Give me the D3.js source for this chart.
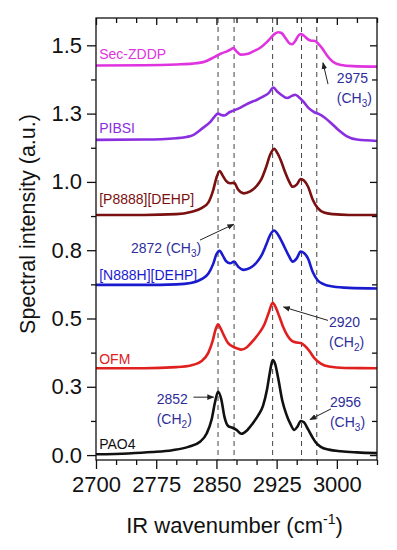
<!DOCTYPE html>
<html>
<head>
<meta charset="utf-8">
<script src="https://cdn.jsdelivr.net/npm/d3@7"></script>
<style>
  html, body { margin: 0; padding: 0; background: #fff; }
  svg { display: block; font-family: "Liberation Sans", Arial, sans-serif; }
</style>
</head>
<body>
<svg id="chart" width="397" height="550"></svg>
<script>
// ---------------- DATA ----------------
const xDomain = [2700, 3050];
const yDomain = [-0.018, 1.6];
const xMajorTicks = [2700, 2775, 2850, 2925, 3000];
const xMinorTicks = [2725, 2750, 2800, 2825, 2875, 2900, 2950, 2975, 3025, 3050];
const yMajorTicks = [0, 0.25, 0.5, 0.75, 1.0, 1.25, 1.5];
const yTickLabels = ["0.0", "0.3", "0.5", "0.8", "1.0", "1.3", "1.5"];
const yMinorTicks = [0.125, 0.375, 0.625, 0.875, 1.125, 1.375];
const peakLines = [2852, 2872, 2920, 2956, 2975];

const pao4Wn = [2700, 2740, 2770, 2795, 2815, 2830, 2838, 2844, 2848, 2852, 2856, 2860, 2865, 2870, 2875, 2881, 2888, 2895, 2902, 2908, 2913, 2917, 2920, 2923, 2927, 2932, 2937, 2942, 2947, 2951, 2955, 2959, 2964, 2969, 2974, 2980, 2990, 3005, 3025, 3050];
const pao4Y  = [0.003, 0.006, 0.011, 0.018, 0.03, 0.05, 0.08, 0.13, 0.19, 0.232, 0.205, 0.14, 0.105, 0.10, 0.092, 0.078, 0.09, 0.115, 0.145, 0.18, 0.24, 0.31, 0.348, 0.335, 0.28, 0.20, 0.15, 0.115, 0.092, 0.105, 0.125, 0.12, 0.095, 0.068, 0.045, 0.03, 0.02, 0.014, 0.01, 0.007];

const ofmWn = [2700, 2760, 2800, 2818, 2832, 2840, 2845, 2849, 2852, 2855, 2859, 2864, 2870, 2876, 2881, 2888, 2896, 2904, 2910, 2915, 2920, 2924, 2928, 2933, 2939, 2944, 2950, 2955, 2960, 2966, 2972, 2980, 2990, 3010, 3050];
const ofmY  = [0.318, 0.318, 0.322, 0.328, 0.345, 0.375, 0.415, 0.46, 0.479, 0.465, 0.44, 0.412, 0.398, 0.39, 0.386, 0.395, 0.42, 0.45, 0.48, 0.52, 0.557, 0.54, 0.51, 0.47, 0.435, 0.418, 0.412, 0.41, 0.40, 0.38, 0.355, 0.335, 0.324, 0.319, 0.318];

const ionWn = [2700, 2760, 2800, 2818, 2832, 2840, 2846, 2850, 2854, 2858, 2862, 2867, 2872, 2877, 2884, 2892, 2900, 2906, 2912, 2917, 2922, 2926, 2930, 2935, 2940, 2945, 2950, 2955, 2959, 2964, 2970, 2976, 2984, 2995, 3015, 3050];
const n888hY = [0.623, 0.623, 0.625, 0.63, 0.645, 0.665, 0.70, 0.735, 0.748, 0.73, 0.71, 0.702, 0.708, 0.69, 0.678, 0.685, 0.705, 0.73, 0.77, 0.806, 0.822, 0.81, 0.79, 0.76, 0.73, 0.708, 0.72, 0.745, 0.74, 0.72, 0.67, 0.64, 0.625, 0.617, 0.612, 0.61];
const p8888Y = [0.879, 0.879, 0.882, 0.89, 0.905, 0.925, 0.97, 1.015, 1.04, 1.022, 1.004, 0.995, 0.997, 0.972, 0.958, 0.965, 0.985, 1.01, 1.055, 1.10, 1.121, 1.105, 1.08, 1.04, 1.005, 0.982, 0.99, 1.01, 1.005, 0.983, 0.935, 0.905, 0.888, 0.882, 0.879, 0.879];

const pibsiWn = [2700, 2760, 2800, 2818, 2832, 2843, 2848, 2852, 2856, 2860, 2866, 2872, 2880, 2890, 2900, 2908, 2915, 2921, 2926, 2931, 2938, 2944, 2948, 2952, 2958, 2965, 2972, 2978, 2985, 2993, 3002, 3012, 3025, 3050];
const pibsiY  = [1.154, 1.155, 1.16, 1.168, 1.195, 1.222, 1.24, 1.25, 1.245, 1.243, 1.255, 1.262, 1.272, 1.288, 1.30, 1.312, 1.325, 1.345, 1.33, 1.318, 1.307, 1.315, 1.319, 1.312, 1.295, 1.27, 1.255, 1.248, 1.235, 1.215, 1.19, 1.168, 1.155, 1.15];

const zddpWn = [2700, 2760, 2800, 2820, 2836, 2848, 2856, 2863, 2868, 2871, 2875, 2880, 2888, 2896, 2905, 2912, 2918, 2923, 2927, 2931, 2936, 2940, 2944, 2948, 2952, 2955, 2959, 2964, 2968, 2973, 2977, 2982, 2988, 2995, 3005, 3020, 3050];
const zddpY  = [1.426, 1.427, 1.43, 1.433, 1.441, 1.458, 1.47, 1.478, 1.485, 1.49, 1.478, 1.466, 1.468, 1.478, 1.492, 1.51, 1.528, 1.543, 1.548, 1.545, 1.527, 1.51, 1.504, 1.515, 1.535, 1.541, 1.535, 1.522, 1.517, 1.516, 1.505, 1.488, 1.462, 1.44, 1.428, 1.424, 1.422];

const seriesNames  = ["PAO4", "OFM", "[N888H][DEHP]", "[P8888][DEHP]", "PIBSI", "Sec-ZDDP"];
const seriesColors = ["#111111", "#e0201e", "#1a1acf", "#7a1010", "#8a2ee0", "#e033e0"];
const seriesWn     = [pao4Wn, ofmWn, ionWn, ionWn, pibsiWn, zddpWn];
const seriesY      = [pao4Y, ofmY, n888hY, p8888Y, pibsiY, zddpY];
const labelAt      = [[2704, 0.023], [2704, 0.334], [2704, 0.64], [2704, 0.92], [2704, 1.178], [2704, 1.449]];

// annotations: text lines (wn, value of first baseline), arrow from -> to (data coords)
const annotations = [
  { lines: [["2852", ""], ["(CH", "2", ")"]], at: [2775.6, 0.188], from: [2821.4, 0.212], to: [2846.5, 0.212] },
  { lines: [["2872 (CH", "3", ")"]],          at: [2743.6, 0.738], from: [2829.5, 0.787], to: [2871.5, 0.845] },
  { lines: [["2920", ""], ["(CH", "2", ")"]], at: [2990.2, 0.469], from: [2989.0, 0.493], to: [2933.5, 0.542] },
  { lines: [["2956", ""], ["(CH", "3", ")"]], at: [2991.4, 0.175], from: [2992.7, 0.169], to: [2966.5, 0.130] },
  { lines: [["2975", ""], ["(CH", "3", ")"]], at: [3000.0, 1.361], from: [2989.0, 1.358], to: [2982.7, 1.436] }
];

// ---------------- CHART ----------------
const W = 397, H = 550;
const margin = { left: 96, right: 20, top: 18, bottom: 90 };
const iw = W - margin.left - margin.right;
const ih = H - margin.top - margin.bottom;

const svg = d3.select("#chart");
const g = svg.append("g").attr("transform", `translate(${margin.left},${margin.top})`);

const x = d3.scaleLinear().domain(xDomain).range([0, iw]);
const y = d3.scaleLinear().domain(yDomain).range([ih, 0]);

svg.append("defs").append("marker")
  .attr("id", "arrow").attr("viewBox", "0 0 10 10").attr("refX", 9).attr("refY", 5)
  .attr("markerWidth", 7).attr("markerHeight", 7).attr("orient", "auto-start-reverse")
  .attr("markerUnits", "userSpaceOnUse")
  .append("path").attr("d", "M0,1 L10,5 L0,9 Z").attr("fill", "#222");

// dashed peak lines
g.selectAll(".peak").data(peakLines).enter().append("line")
  .attr("x1", d => x(d)).attr("x2", d => x(d))
  .attr("y1", 0).attr("y2", ih)
  .attr("stroke", "#444").attr("stroke-width", 1).attr("stroke-dasharray", "5,4");

// series
const line = d3.line().x(d => x(d[0])).y(d => y(d[1])).curve(d3.curveMonotoneX);
seriesNames.forEach((name, i) => {
  const pts = seriesWn[i].map((w, k) => [w, seriesY[i][k]]);
  g.append("path").datum(pts)
    .attr("fill", "none").attr("stroke", seriesColors[i])
    .attr("stroke-width", 2.6).attr("stroke-linejoin", "round")
    .attr("d", line);
  g.append("text")
    .attr("x", x(labelAt[i][0])).attr("y", y(labelAt[i][1]))
    .attr("fill", seriesColors[i]).attr("font-size", 14)
    .text(name);
});

// annotations
annotations.forEach(a => {
  const t = g.append("text").attr("font-size", 14).attr("fill", "#2e2e9a");
  a.lines.forEach((ln, li) => {
    const tx = t.append("tspan").attr("x", x(a.at[0])).attr("y", y(a.at[1]) + li * 20).text(ln[0]);
    if (ln.length > 2) {
      t.append("tspan").attr("font-size", 10).attr("dy", 4).text(ln[1]);
      t.append("tspan").attr("dy", -4).text(ln[2]);
    }
  });
  g.append("line")
    .attr("x1", x(a.from[0])).attr("y1", y(a.from[1]))
    .attr("x2", x(a.to[0])).attr("y2", y(a.to[1]))
    .attr("stroke", "#222").attr("stroke-width", 1)
    .attr("marker-end", "url(#arrow)");
});

// axes
function styleAxis(sel) {
  sel.select(".domain").remove();
  sel.selectAll("line").attr("stroke", "#111").attr("stroke-width", 1.3);
  sel.selectAll("text").attr("font-size", 22).attr("fill", "#111").attr("font-family", "'Liberation Sans', Arial, sans-serif");
}
g.append("g").attr("transform", `translate(0,${ih})`)
  .call(d3.axisBottom(x).tickValues(xMajorTicks).tickFormat(d3.format("d")).tickSize(9).tickPadding(7))
  .call(styleAxis);
g.append("g").attr("transform", `translate(0,${ih})`)
  .call(d3.axisBottom(x).tickValues(xMinorTicks).tickFormat("").tickSize(5))
  .call(styleAxis);
g.append("g")
  .call(d3.axisLeft(y).tickValues(yMajorTicks).tickFormat((d, i) => yTickLabels[i]).tickSize(9).tickPadding(5))
  .call(styleAxis);
g.append("g")
  .call(d3.axisLeft(y).tickValues(yMinorTicks).tickFormat("").tickSize(5))
  .call(styleAxis);
// mirrored inward ticks
g.append("g")
  .call(d3.axisBottom(x).tickValues(xMajorTicks).tickFormat("").tickSize(7))
  .call(styleAxis);
g.append("g")
  .call(d3.axisBottom(x).tickValues(xMinorTicks).tickFormat("").tickSize(5))
  .call(styleAxis);
g.append("g").attr("transform", `translate(${iw},0)`)
  .call(d3.axisLeft(y).tickValues(yMajorTicks).tickFormat("").tickSize(7))
  .call(styleAxis);
g.append("g").attr("transform", `translate(${iw},0)`)
  .call(d3.axisLeft(y).tickValues(yMinorTicks).tickFormat("").tickSize(5))
  .call(styleAxis);

g.append("rect").attr("width", iw).attr("height", ih)
  .attr("fill", "none").attr("stroke", "#111").attr("stroke-width", 1.3);

// axis titles
const xt = svg.append("text").attr("x", margin.left + iw / 2 - 2).attr("y", 533)
  .attr("text-anchor", "middle").attr("font-size", 22).attr("fill", "#111");
xt.append("tspan").text("IR wavenumber (cm");
xt.append("tspan").attr("font-size", 14).attr("dy", -9).text("-1");
xt.append("tspan").attr("dy", 9).text(")");

svg.append("text")
  .attr("transform", `translate(35,224) rotate(-90)`)
  .attr("text-anchor", "middle").attr("font-size", 21.5).attr("fill", "#111")
  .text("Spectral intensity (a.u.)");
</script>
</body>
</html>
